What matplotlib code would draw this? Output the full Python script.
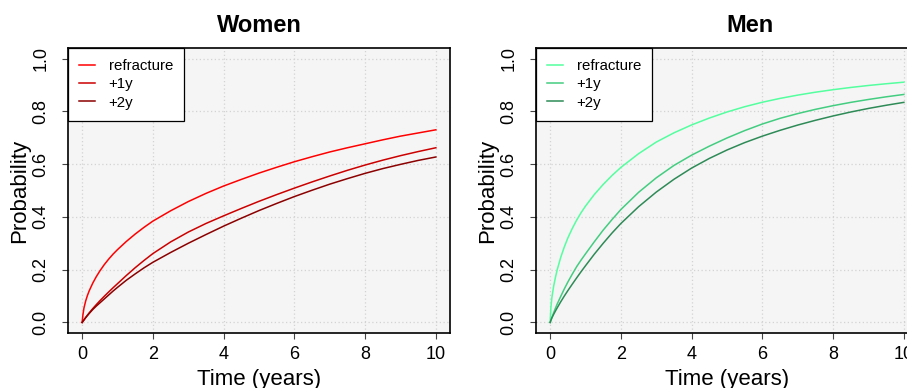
import matplotlib
matplotlib.use("Agg")
import matplotlib.pyplot as plt
from matplotlib.ticker import FormatStrFormatter

plt.rcParams['font.family'] = ['Liberation Sans', 'DejaVu Sans']

# Time grid (years)
time = [0, 0.02, 0.05, 0.1, 0.15, 0.2, 0.3, 0.4, 0.5, 0.625, 0.75, 0.875, 1,
        1.25, 1.5, 1.75, 2, 2.5, 3, 3.5, 4, 4.5, 5, 5.5, 6, 6.5, 7, 7.5, 8,
        8.5, 9, 9.5, 10]

# Women
women_refracture = [0, 0.027, 0.054, 0.0815, 0.1025, 0.12, 0.149, 0.1735, 0.195, 0.219,
                    0.240, 0.259, 0.276, 0.307, 0.335, 0.3605, 0.384, 0.423, 0.458,
                    0.489, 0.517, 0.542, 0.566, 0.588, 0.609, 0.628, 0.646, 0.662,
                    0.677, 0.692, 0.706, 0.718, 0.730]
women_plus1y = [0, 0.004, 0.0095, 0.019, 0.028, 0.0365, 0.0525, 0.0675, 0.082, 0.099,
                0.1155, 0.1315, 0.147, 0.178, 0.2075, 0.235, 0.261, 0.305, 0.3425,
                0.375, 0.404, 0.432, 0.459, 0.4845, 0.509, 0.5325, 0.555, 0.5765,
                0.5965, 0.615, 0.632, 0.6475, 0.662]
women_plus2y = [0, 0.0035, 0.009, 0.018, 0.026, 0.034, 0.049, 0.062, 0.074, 0.089,
                0.104, 0.119, 0.133, 0.160, 0.184, 0.207, 0.228, 0.265, 0.300,
                0.333, 0.365, 0.395, 0.424, 0.451, 0.477, 0.501, 0.524, 0.545,
                0.565, 0.583, 0.599, 0.614, 0.627]

# Men
men_refracture = [0, 0.055, 0.095, 0.138, 0.171, 0.200, 0.247, 0.286, 0.320, 0.356,
                  0.388, 0.416, 0.441, 0.485, 0.523, 0.557, 0.5875, 0.6395, 0.6835,
                  0.7185, 0.7485, 0.7745, 0.7975, 0.8175, 0.8345, 0.849, 0.8615,
                  0.8725, 0.882, 0.8905, 0.898, 0.9045, 0.9105]
men_plus1y = [0, 0.008, 0.019, 0.037, 0.054, 0.07, 0.099, 0.127, 0.153, 0.183,
              0.2115, 0.2365, 0.26, 0.306, 0.350, 0.390, 0.428, 0.493, 0.548,
              0.595, 0.634, 0.668, 0.699, 0.727, 0.752, 0.7735, 0.7915, 0.8075,
              0.8215, 0.834, 0.845, 0.855, 0.864]
men_plus2y = [0, 0.0075, 0.0175, 0.031, 0.0435, 0.0555, 0.0785, 0.100, 0.1205, 0.145,
              0.169, 0.1925, 0.215, 0.259, 0.300, 0.339, 0.375, 0.4385, 0.494,
              0.5425, 0.585, 0.6215, 0.6535, 0.6815, 0.706, 0.728, 0.748, 0.766,
              0.7825, 0.7975, 0.811, 0.823, 0.834]

labels = ["refracture", "+1y", "+2y"]
women_colors = ["#FF0000", "#CD0000", "#8B0000"]
men_colors = ["#54FF9F", "#43CD80", "#2E8B57"]

xticks = [0, 2, 4, 6, 8, 10]
yticks = [0.0, 0.2, 0.4, 0.6, 0.8, 1.0]

W, H = 907, 388
fig = plt.figure(figsize=(W / 100, H / 100), dpi=100)

def px_axes(left, right, top, bottom):
    return fig.add_axes([left / W, 1 - bottom / H, (right - left) / W, (bottom - top) / H])

panels = [
    (px_axes(68, 450, 48, 333), "Women", [women_refracture, women_plus1y, women_plus2y], women_colors, 0.5),
    (px_axes(536, 918, 48, 333), "Men", [men_refracture, men_plus1y, men_plus2y], men_colors, 0.56),
]

for ax, title, series, colors, tx in panels:
    ax.set_facecolor("#F5F5F5")
    ax.set_xlim(-0.4, 10.4)
    ax.set_ylim(-0.04, 1.04)
    ax.set_xticks(xticks)
    ax.set_yticks(yticks)
    ax.yaxis.set_major_formatter(FormatStrFormatter('%.1f'))
    ax.grid(True, color="#D3D3D3", linestyle=(0, (1, 2)), linewidth=0.9)
    ax.set_axisbelow(True)
    for s in ax.spines.values():
        s.set_linewidth(1.2)
        s.set_color("black")
    ax.tick_params(direction='out', length=4.5, width=0.8, color='#444444', labelsize=13)
    ax.tick_params(axis='x', pad=5)
    ax.tick_params(axis='y', pad=9)
    for lbl in ax.get_yticklabels():
        lbl.set_rotation(90)
        lbl.set_va('center')
    for vals, c, lab in zip(series, colors, labels):
        ax.plot(time, vals, color=c, linewidth=1.1, label=lab)
    ax.set_title(title, fontsize=17, fontweight='bold', x=tx, y=1.05, va='center')
    ax.set_xlabel("Time (years)", fontsize=16)
    ax.set_ylabel("Probability", fontsize=16)
    ax.xaxis.set_label_coords(0.5, (333 - 380) / 285)
    ax.xaxis.label.set_va('center')
    ax.yaxis.set_label_coords(-48 / 382, 0.5)
    ax.yaxis.label.set_va('center')
    leg = ax.legend(loc='upper left', bbox_to_anchor=(0, 1), borderaxespad=0,
                    fancybox=False, edgecolor='black', framealpha=1, fontsize=10.8,
                    handlelength=1.05, handletextpad=0.9, labelspacing=0.28,
                    borderpad=0.75)
    leg.get_frame().set_linewidth(0.9)

fig.savefig("out.png", dpi=100)
